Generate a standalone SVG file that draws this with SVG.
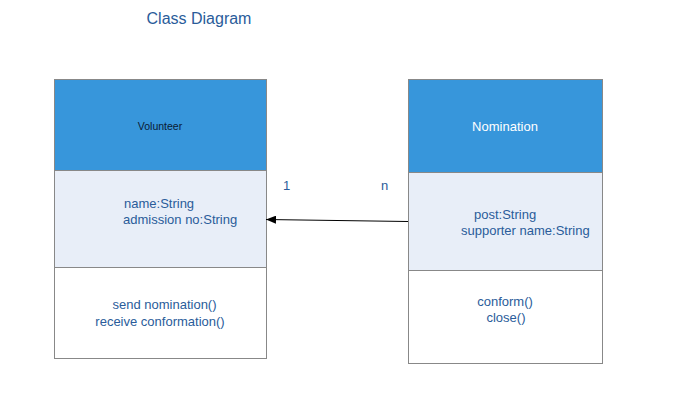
<svg xmlns="http://www.w3.org/2000/svg" width="692" height="401" viewBox="0 0 692 401">
<style>
text{font-family:"Liberation Sans",Arial,sans-serif;font-size:13px;fill:#2A5C9A}
.hdr{fill:#3796DB;stroke:#888;stroke-width:1}
.att{fill:#E8EEF8;stroke:#888;stroke-width:1}
.ops{fill:#FFFFFF;stroke:#888;stroke-width:1}
.c{text-anchor:middle}
.edge{stroke:#000;stroke-width:1;fill:none}
</style>
<defs>
<marker id="arr" markerWidth="10" markerHeight="8" refX="10" refY="4" orient="auto" markerUnits="userSpaceOnUse">
<path d="M0,0 L10,4 L0,8 Z" fill="#000"/>
</marker>
</defs>
<rect width="692" height="401" fill="#fff"/>
<text id="title" x="199" y="24" class="c" style="font-size:16px">Class Diagram</text>
<g id="volunteer">
<rect class="hdr" x="54.5" y="79.5" width="212" height="91"/>
<rect class="att" x="54.5" y="170.5" width="212" height="97"/>
<rect class="ops" x="54.5" y="267.5" width="212" height="91"/>
<text x="160" y="130" class="c" style="font-size:10.5px;fill:#0A1A33">Volunteer</text>
<text x="124" y="208">name:String</text>
<text x="123" y="224">admission no:String</text>
<text x="164.5" y="309" class="c">send nomination()</text>
<text x="160" y="326" class="c">receive conformation()</text>
</g>
<g id="nomination">
<rect class="hdr" x="408.5" y="79.5" width="194" height="93"/>
<rect class="att" x="408.5" y="172.5" width="194" height="98"/>
<rect class="ops" x="408.5" y="270.5" width="194" height="93"/>
<text x="505" y="131" class="c" style="fill:#FFFFFF">Nomination</text>
<text x="474" y="219">post:String</text>
<text x="461" y="235">supporter name:String</text>
<text x="505" y="306" class="c">conform()</text>
<text x="506" y="322" class="c">close()</text>
</g>
<g id="connectors">
<line class="edge" x1="408" y1="221.5" x2="266" y2="219.5" marker-end="url(#arr)"/>
<text x="283" y="190">1</text>
<text x="381" y="190">n</text>
</g>
</svg>
